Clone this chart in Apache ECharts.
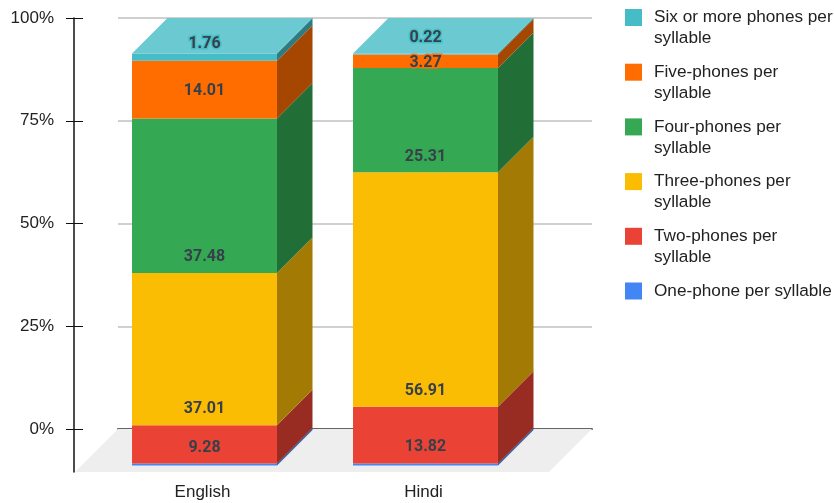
<!DOCTYPE html>
<html>
<head>
<meta charset="utf-8">
<style>html,body{margin:0;padding:0;background:#fff}#chart{width:834px;height:503px}</style>
<script src="https://cdn.jsdelivr.net/npm/echarts@6/dist/echarts.min.js"></script>
</head>
<body>
<div id="chart"></div>
<script>
// Share of syllables by number of phones, one stacked column per language.
const languages = ['English', 'Hindi'];
const seriesNames = [
  'One-phone per syllable',
  'Two-phones per syllable',
  'Three-phones per syllable',
  'Four-phones per syllable',
  'Five-phones per syllable',
  'Six or more phones per syllable'
];
const onePhone = [0.46, 0.47];
const twoPhones = [9.28, 13.82];
const threePhones = [37.01, 56.91];
const fourPhones = [37.48, 25.31];
const fivePhones = [14.01, 3.27];
const sixPhones = [1.76, 0.22];
const valueTicks = [0, 25, 50, 75, 100];

const seriesValues = [onePhone, twoPhones, threePhones, fourPhones, fivePhones, sixPhones];
const frontColors = ['#4285f4', '#ea4335', '#fbbc04', '#34a853', '#ff6d01', '#46bdc6'];
const sideColors = ['#2b5c9f', '#982c22', '#a37a03', '#226e37', '#a64701', '#2e7b81'];
const topColor = '#6bcad1';
const showValueLabel = [false, true, true, true, true, true];
// Height of each value label above the bottom of its segment, in pixels.
const labelLift = [
  [0, 0], [15.5, 16.5], [16.5, 15.5], [15.5, 15.5], [27.5, 4.5], [16.5, 16.5]
];

const DEPTH = 35.5;        // how far the columns recede towards the back wall
const FLOOR_DEPTH = 43;    // how far the floor extends in front of the back wall
const BAR_RATIO = 0.656;

// Stack the segments so every column is drawn from its running totals.
const running = languages.map(() => 0);
const stacked = seriesValues.map(values => values.map((v, i) => {
  const low = running[i];
  running[i] += v;
  return [i, low, running[i], v];
}));

function segmentRenderer(s) {
  return function (params, api) {
    const cat = api.value(0);
    const low = api.coord([cat, api.value(1)]);
    const high = api.coord([cat, api.value(2)]);
    const half = api.size([1, 0])[0] * BAR_RATIO / 2;
    const xl = low[0] - half, xr = low[0] + half;
    const children = [
      { type: 'polygon', shape: { points: [[xr, low[1]], [xr, high[1]], [xr + DEPTH, high[1] - DEPTH], [xr + DEPTH, low[1] - DEPTH]] },
        style: { fill: sideColors[s] }, z2: 1 },
      { type: 'rect', shape: { x: xl, y: high[1], width: xr - xl, height: low[1] - high[1] },
        style: { fill: frontColors[s] }, z2: 2 }
    ];
    if (s === seriesValues.length - 1) {
      children.push({ type: 'polygon', shape: { points: [[xl, high[1]], [xr, high[1]], [xr + DEPTH, high[1] - DEPTH], [xl + DEPTH, high[1] - DEPTH]] },
        style: { fill: topColor }, z2: 3 });
    }
    if (showValueLabel[s]) {
      children.push({ type: 'text', z2: 10, style: {
        x: low[0], y: low[1] - labelLift[s][cat],
        text: api.value(3).toFixed(2), align: 'center', verticalAlign: 'middle',
        font: 'bold 16px Roboto', fill: '#37404a',
        stroke: frontColors[s], lineWidth: 3
      } });
    }
    return { type: 'group', children };
  };
}

function renderFloor(params) {
  const c = params.coordSys;
  const back = c.y + c.height;
  return { type: 'polygon', shape: { points: [
    [c.x, back], [c.x + c.width, back],
    [c.x + c.width - FLOOR_DEPTH, back + FLOOR_DEPTH], [c.x - FLOOR_DEPTH, back + FLOOR_DEPTH]
  ] }, style: { fill: '#eeeeee' } };
}

// Legend rows keep three text lines, so the swatch, which sits on the
// middle line, lines up with the first visible line of the name.
const legendOrder = seriesNames.slice().reverse();
function legendText(name) {
  return name.length > 22
    ? '\n' + name.replace(/ syllable$/, '\nsyllable')
    : '\n' + name + '\n';
}

const textColor = '#222222';
const labelFont = 'Liberation Sans';
const option = {
  animation: false,
  legend: {
    orient: 'vertical', left: 625, top: -14, padding: 0,
    itemWidth: 17, itemHeight: 17, itemGap: -8.3,
    icon: 'rect',
    selectedMode: false,
    formatter: legendText,
    textStyle: {
      fontFamily: labelFont, fontSize: 17.2, lineHeight: 21, color: textColor,
      padding: [0, 0, 0, 7]
    },
    itemStyle: { borderWidth: 0 },
    data: legendOrder
  },
  grid: [
    // Back wall: carries the percent scale and its grid lines.
    { left: 118, width: 474, top: 18, height: 411 },
    // Front plane of the columns.
    { left: 94, width: 442, top: 53.5, height: 412 },
    // Long rail of the value axis, running down past the floor.
    { left: 74, width: 1, top: 18, height: 454 }
  ],
  xAxis: [
    { type: 'category', gridIndex: 0, data: languages, axisTick: { show: false }, axisLabel: { show: false },
      axisLine: { lineStyle: { color: '#666666', width: 2 } } },
    { type: 'category', gridIndex: 1, data: languages, axisTick: { show: false }, axisLine: { show: false },
      axisLabel: { color: textColor, fontFamily: labelFont, fontSize: 17, margin: 18, padding: [0, 4, 0, 0] } },
    { type: 'category', gridIndex: 2, show: false }
  ],
  yAxis: [
    { type: 'value', gridIndex: 0, min: 0, max: 100, interval: 25, offset: 44,
      axisLine: { show: false },
      axisTick: { show: true, length: 8, lineStyle: { color: '#111111', width: 1 } },
      axisLabel: { color: textColor, fontFamily: labelFont, fontSize: 17, margin: 20,
        formatter: v => valueTicks.includes(v) ? v + '%' : '' },
      splitLine: { lineStyle: { color: '#d0d0d0', width: 2 } } },
    { type: 'value', gridIndex: 0, min: 0, max: 100, interval: 25, offset: 44, position: 'left',
      axisLine: { show: false }, axisLabel: { show: false }, splitLine: { show: false },
      axisTick: { show: true, inside: true, length: 9, lineStyle: { color: '#111111', width: 1 } } },
    { type: 'value', gridIndex: 1, min: 0, max: 100, show: false },
    { type: 'value', gridIndex: 2, min: 0, max: 100, position: 'left', splitLine: { show: false },
      axisTick: { show: false }, axisLabel: { show: false },
      axisLine: { show: true, lineStyle: { color: '#111111', width: 1.5 } } }
  ],
  series: [
    { type: 'custom', xAxisIndex: 0, yAxisIndex: 0, renderItem: renderFloor, data: [[0, 0]], z: 1, silent: true, legendHoverLink: false }
  ].concat(stacked.map((data, s) => ({
    type: 'custom',
    name: seriesNames[s],
    xAxisIndex: 1,
    yAxisIndex: 2,
    z: 3,
    encode: { x: 0, y: [1, 2] },
    itemStyle: { color: frontColors[s] },
    renderItem: segmentRenderer(s),
    data
  })))
};

echarts.init(document.getElementById('chart'), null, { renderer: 'canvas' }).setOption(option);
</script>
</body>
</html>
